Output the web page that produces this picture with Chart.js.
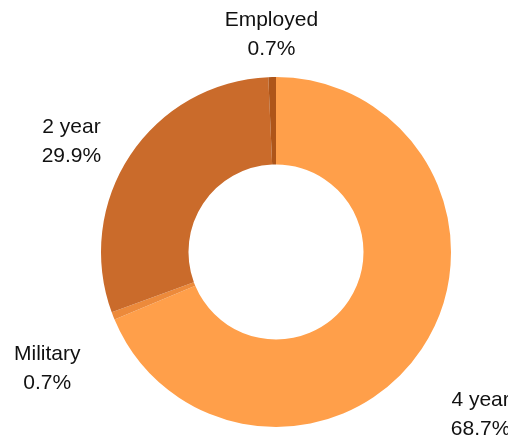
<!DOCTYPE html>
<html>
<head>
<meta charset="utf-8">
<script src="https://cdn.jsdelivr.net/npm/chart.js@4"></script>
<style>
  html, body { margin: 0; padding: 0; background: #fff; }
  #wrap { width: 508px; height: 436px; }
</style>
</head>
<body>
<div id="wrap"><canvas id="c"></canvas></div>
<script>
const labels = ['4 year', 'Military', '2 year', 'Employed'];
const shares = [68.7, 0.7, 29.9, 0.7];
const colors = ['#FF9F4A', '#EC8A3B', '#CA6B2B', '#AE5519'];

// draws "name / pct%" outside each slice
const outsideLabels = {
    id: 'outsideLabels',
    afterDraw(chart) {
        const ctx = chart.ctx;
        const meta = chart.getDatasetMeta(0);
        ctx.save();
        ctx.font = '21px "Liberation Sans", Arial, sans-serif';
        ctx.fillStyle = '#111';
        ctx.textAlign = 'center';
        ctx.textBaseline = 'middle';
        meta.data.forEach((arc, i) => {
            const p = arc.getProps(['x', 'y', 'startAngle', 'endAngle', 'outerRadius'], true);
            const mid = (p.startAngle + p.endAngle) / 2;
            const cos = Math.cos(mid), sin = Math.sin(mid);
            const line1 = labels[i];
            const line2 = shares[i].toFixed(1) + '%';
            const w = Math.max(ctx.measureText(line1).width, ctx.measureText(line2).width);
            const sgn = Math.abs(cos) < 0.2 ? 0 : Math.sign(cos);
            const cx = p.x + p.outerRadius * 1.2 * cos + sgn * w / 2;
            const cy = p.y + p.outerRadius * 1.38 * sin + (sin > 0 ? 29 : 24);
            ctx.fillText(line1, cx, cy - 14.5);
            ctx.fillText(line2, cx, cy + 14.5);
        });
        ctx.restore();
    }
};

new Chart(document.getElementById('c'), {
    type: 'doughnut',
    data: {
        labels: labels,
        datasets: [{
            data: shares,
            backgroundColor: colors,
            borderWidth: 0
        }]
    },
    options: {
        responsive: true,
        maintainAspectRatio: false,
        animation: false,
        cutout: '50%',
        layout: {
            padding: { left: 101, right: 57, top: 77, bottom: 9 }
        },
        plugins: {
            legend: { display: false },
            tooltip: { enabled: false }
        }
    },
    plugins: [outsideLabels]
});
</script>
</body>
</html>
